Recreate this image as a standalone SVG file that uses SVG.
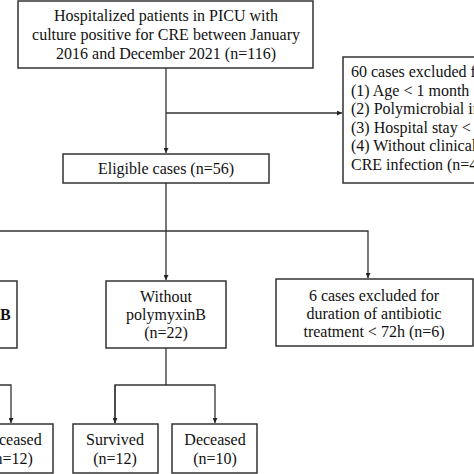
<svg xmlns="http://www.w3.org/2000/svg" width="474" height="474" viewBox="0 0 474 474">
<style>
.box{fill:#fff;stroke:#333;stroke-width:1.5}
.t{font-family:"Liberation Serif","Times New Roman",serif;font-size:16px;fill:#111}
.c{text-anchor:middle}
.ln{fill:none;stroke:#333;stroke-width:1.3}
</style>
<defs>
<marker id="ah" viewBox="0 0 10 10" refX="10" refY="5" markerWidth="5" markerHeight="5" orient="auto" markerUnits="userSpaceOnUse">
<path d="M0,0 L10,5 L0,10 z" fill="#222"/>
</marker>
</defs>
<rect width="474" height="474" fill="#fff"/>
<g id="connectors">
<path class="ln" d="M166,68 V153" marker-end="url(#ah)"/>
<path class="ln" d="M166,113 H342" marker-end="url(#ah)"/>
<path class="ln" d="M166,183 V280" marker-end="url(#ah)"/>
<path class="ln" d="M0,231 H368 V278" marker-end="url(#ah)"/>
<path class="ln" d="M166,348 V385"/>
<path class="ln" d="M115,423 V385 H215 V423" marker-end="url(#ah)"/>
<path class="ln" d="M115,385 V423" marker-end="url(#ah)"/>
<path class="ln" d="M0,385 H11 V423" marker-end="url(#ah)"/>
</g>
<g id="n-top">
<rect class="box" x="18" y="1" width="295" height="67"/>
<text class="t c" x="166" y="21">Hospitalized patients in PICU with</text>
<text class="t c" x="166" y="40">culture positive for CRE between January</text>
<text class="t c" x="166" y="59">2016 and December 2021 (n=116)</text>
</g>
<g id="n-excluded60">
<rect class="box" x="343" y="57" width="140" height="126"/>
<text class="t" x="351" y="77">60 cases excluded for:</text>
<text class="t" x="351" y="95.5">(1) Age &lt; 1 month</text>
<text class="t" x="351" y="114">(2) Polymicrobial infection</text>
<text class="t" x="351" y="132.5">(3) Hospital stay &lt; 48h</text>
<text class="t" x="351" y="151">(4) Without clinical</text>
<text class="t" x="351" y="170">CRE infection (n=4)</text>
</g>
<g id="n-eligible">
<rect class="box" x="63" y="154" width="206" height="29"/>
<text class="t c" x="166" y="174">Eligible cases (n=56)</text>
</g>
<g id="n-with">
<rect class="box" x="-40" y="281" width="57" height="67"/>
<text class="t" x="0" y="320" style="font-weight:bold">B</text>
</g>
<g id="n-without">
<rect class="box" x="106" y="281" width="120" height="67"/>
<text class="t c" x="166" y="302">Without</text>
<text class="t c" x="166" y="320">polymyxinB</text>
<text class="t c" x="166" y="338">(n=22)</text>
</g>
<g id="n-excluded6">
<rect class="box" x="276" y="279" width="197" height="67"/>
<text class="t c" x="374" y="301">6 cases excluded for</text>
<text class="t c" x="374" y="319">duration of antibiotic</text>
<text class="t c" x="374" y="337">treatment &lt; 72h (n=6)</text>
</g>
<g id="n-deceased-left">
<rect class="box" x="-31" y="424" width="84" height="49"/>
<text class="t c" x="11" y="445">Deceased</text>
<text class="t c" x="11" y="464">(n=12)</text>
</g>
<g id="n-survived">
<rect class="box" x="73" y="424" width="85" height="49"/>
<text class="t c" x="115" y="445">Survived</text>
<text class="t c" x="115" y="464">(n=12)</text>
</g>
<g id="n-deceased">
<rect class="box" x="172" y="424" width="85" height="49"/>
<text class="t c" x="215" y="445">Deceased</text>
<text class="t c" x="215" y="464">(n=10)</text>
</g>
</svg>
